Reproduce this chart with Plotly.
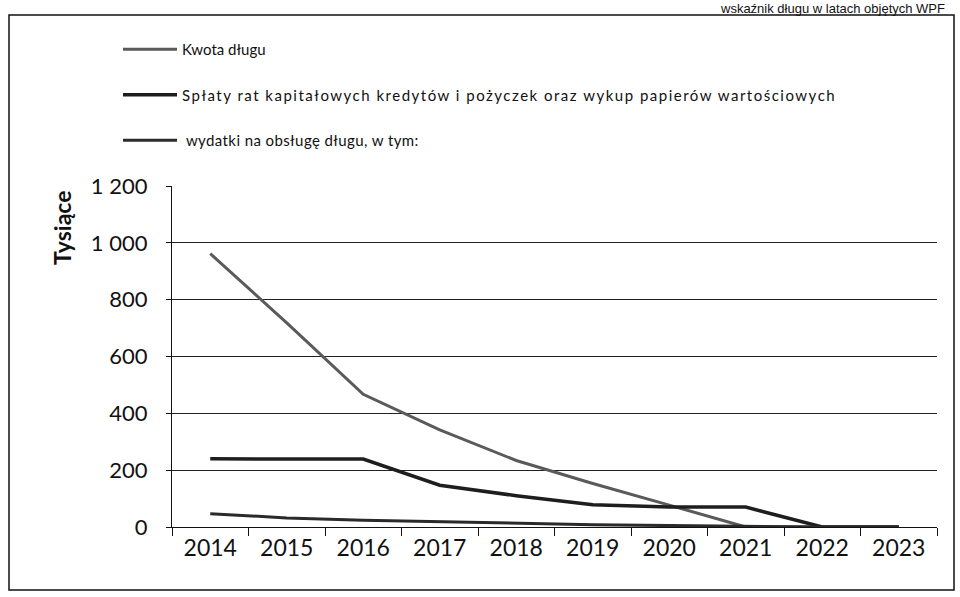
import plotly.graph_objects as go

years = ["2014", "2015", "2016", "2017", "2018", "2019", "2020", "2021", "2022", "2023"]
kwota_dlugu = [962, 718, 467, 342, 234, 153, 77, 0, 0, 0]
splaty_rat = [240, 240, 239, 147, 110, 78, 70, 70, 0, 0]
wydatki_obsluga = [47, 32, 24, 19, 12, 8, 5, 2, 0, 0]

names = [
    "Kwota długu",
    '<span style="letter-spacing:1.5px">Spłaty rat kapitałowych kredytów i pożyczek oraz wykup papierów wartościowych</span>',
    '<span style="letter-spacing:0.4px">\u00a0wydatki na obsługę długu, w tym:</span>',
]
y_ticks = [0, 200, 400, 600, 800, 1000, 1200]
y_ticktext = ["0", "200", "400", "600", "800", "1 000", "1 200"]

# plot area in pixels
W, H = 960, 597
L, R, T, B = 172, 937, 186, 527


def px_x(p):
    return (p - L) / (R - L)


def px_y(p):
    return (B - p) / (B - T)


fig = go.Figure()
series = [kwota_dlugu, splaty_rat, wydatki_obsluga]
colors = ["#5a5a5a", "#1e1e1e", "#2a2a2a"]
widths = [3, 3.5, 3]
for i, (vals, name) in enumerate(zip(series, names)):
    fig.add_trace(go.Scatter(
        x=years, y=vals, mode="lines", name=name,
        line=dict(color=colors[i], width=widths[i]),
        legendgroup=f"g{i}",
    ))

fig.update_layout(
    width=W, height=H,
    margin=dict(l=L, r=W - R, t=T, b=H - B),
    paper_bgcolor="white", plot_bgcolor="white",
    showlegend=True,
    legend=dict(
        x=px_x(118), y=px_y(33), xanchor="left", yanchor="top",
        bgcolor="rgba(0,0,0,0)",
        font=dict(family="Lato", size=15, color="#111"),
        traceorder="grouped", tracegroupgap=23,
        itemwidth=54,
    ),
    xaxis=dict(
        type="category", range=[-0.5, 9.5], showgrid=False,
        showline=True, linecolor="#111", linewidth=1.2,
        ticks="outside", ticklen=8, tickcolor="#111", tickwidth=1.2,
        tickson="boundaries",
        tickfont=dict(family="Lato", size=23, color="#111"),
        ticklabelstandoff=0,
    ),
    yaxis=dict(
        range=[0, 1200], tickvals=y_ticks, ticktext=y_ticktext,
        showgrid=True, gridcolor="#222", gridwidth=1,
        showline=True, linecolor="#111", linewidth=1.2,
        ticks="outside", ticklen=5, tickcolor="#111",
        tickfont=dict(family="Lato", size=22, color="#111"),
        ticklabelstandoff=14,
        zeroline=False,
    ),
    annotations=[
        dict(text="<b>Tysiące</b>", x=px_x(62), y=px_y(228), xref="paper", yref="paper",
             textangle=-90, showarrow=False, font=dict(family="Lato", size=23, color="#111"),
             xanchor="center", yanchor="middle"),
        dict(text="wskaźnik długu w latach objętych WPF", x=px_x(946), y=px_y(0),
             xref="paper", yref="paper", xanchor="right", yanchor="top", showarrow=False,
             borderpad=0,
             font=dict(family="Liberation Sans", size=13, color="#111")),
    ],
    shapes=[
        dict(type="rect", xref="paper", yref="paper",
             x0=px_x(9), x1=px_x(954), y0=px_y(590), y1=px_y(15),
             line=dict(color="#111", width=1.5), fillcolor="rgba(0,0,0,0)"),
    ],
)

fig.write_html(
    "out.html",
    config={"displayModeBar": False, "responsive": False},
    default_width="960px", default_height="597px",
    post_script="document.body.style.margin='0';document.body.style.overflow='hidden';",
)
